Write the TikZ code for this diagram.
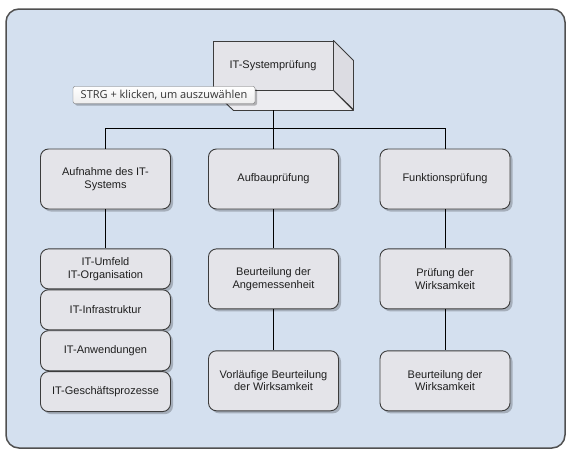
\documentclass[tikz,border=0pt]{standalone}
\usepackage{fontspec}
\setmainfont{Liberation Sans}
\newfontfamily\tippfont{Open Sans}
\usetikzlibrary{positioning,shadows}

\definecolor{hgblau}{HTML}{D4E0EF}
\definecolor{rahmen}{HTML}{505050}
\definecolor{kastenfill}{HTML}{E4E4E9}
\definecolor{kastenrand}{HTML}{3C3C3C}
\definecolor{seitefill}{HTML}{DCDCE2}

\tikzset{
    kasten/.style={draw=kastenrand, fill=kastenfill, line width=0.9pt, rounded corners=8pt,
        minimum width=130pt, minimum height=60pt, align=center, text=black!88,
        font=\fontsize{11}{12.5}\selectfont,
        drop shadow={shadow xshift=2.5pt, shadow yshift=-2.5pt, fill=black, opacity=0.22}},
    klein/.style={kasten, minimum height=40pt},
    linie/.style={draw=black, line width=0.9pt},
    tipp/.style={draw=black!55, top color=white, bottom color=black!7, rounded corners=2pt,
        minimum width=182pt, minimum height=17pt, inner sep=0pt, text=black!80,
        font=\tippfont\fontsize{11}{12}\selectfont,
        drop shadow={shadow xshift=2pt, shadow yshift=-2pt, fill=black, opacity=0.25}},
}

\begin{document}
\begin{tikzpicture}[x=1pt, y=-1pt]
    \useasboundingbox (0,0) rectangle (571,456);
    % Hintergrund
    \fill[white] (0,0) rectangle (571,456);
    \draw[rahmen, fill=hgblau, line width=1.5pt, rounded corners=13pt] (6,9) rectangle (565,448);

    % oberster Kasten (3D)
    \node[draw=kastenrand, fill=kastenfill, line width=0.9pt, minimum width=120pt, minimum height=49pt,
        inner sep=0pt, text=black!88, font=\fontsize{11}{12.5}\selectfont] (sys) at (273,65.5) {IT-Systemprüfung};
    \filldraw[draw=kastenrand, fill=seitefill, line width=0.9pt, line join=round]
        (sys.north east) -- ++(20,20) -- ++(0,49) -- (sys.south east) -- cycle;
    \filldraw[draw=kastenrand, fill=kastenfill!70!white, line width=0.9pt, line join=round]
        (sys.south west) -- (sys.south east) -- ++(20,20) -- ++(-120,0) -- cycle;
    \coordinate (sysb) at ([yshift=-20pt]sys.south);

    % zweite Ebene
    \node[kasten] (aufn) at (105.5,179) {Aufnahme des IT-\\Systems};
    \node[kasten] (aufb) at (273.5,179) {Aufbauprüfung};
    \node[kasten] (funk) at (445,179) {Funktionsprüfung};

    % linke Spalte
    \node[klein, below=39pt of aufn] (umf) {IT-Umfeld\\IT-Organisation};
    \node[klein, below=0pt of umf] (infra) {IT-Infrastruktur};
    \node[klein, below=0pt of infra] (anw) {IT-Anwendungen};
    \node[klein, below=0pt of anw] (gesch) {IT-Geschäftsprozesse};

    % mittlere Spalte
    \node[kasten, below=39pt of aufb] (angem) {Beurteilung der\\Angemessenheit};
    \node[kasten, below=41pt of angem] (vorl) {Vorläufige Beurteilung\\der Wirksamkeit};

    % rechte Spalte
    \node[kasten, below=39pt of funk] (pruef) {Prüfung der\\Wirksamkeit};
    \node[kasten, below=41pt of pruef] (beurt) {Beurteilung der\\Wirksamkeit};

    % Verbindungen
    \draw[linie] (sysb) -- (sysb |- aufb.north);
    \draw[linie] (aufn.north) -- ++(0,-20) -| (funk.north);
    \draw[linie] (aufn) -- (umf);
    \draw[linie] (aufb) -- (angem);
    \draw[linie] (angem) -- (vorl);
    \draw[linie] (funk) -- (pruef);
    \draw[linie] (pruef) -- (beurt);

    % Tooltip
    \node[tipp] (tip) at (164,95) {STRG + klicken, um auszuwählen};
\end{tikzpicture}
\end{document}
